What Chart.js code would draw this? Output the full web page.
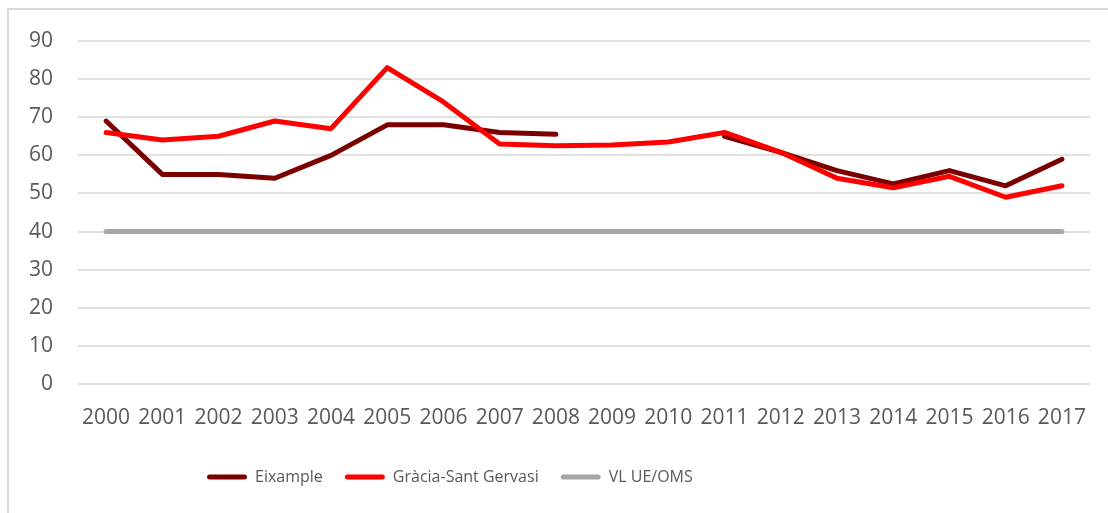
<!DOCTYPE html>
<html>
<head>
<meta charset="utf-8">
<script src="https://cdn.jsdelivr.net/npm/chart.js@4"></script>
<style>
  html, body { margin: 0; padding: 0; background: #ffffff; overflow: hidden; }
  #wrap { position: relative; width: 1108px; height: 513px; }
  #frame { position: absolute; left: 7px; top: 8px; width: 1200px; height: 600px;
           border-left: 2px solid #d9d9d9; border-top: 2px solid #d9d9d9; pointer-events: none; }
  canvas { position: absolute; left: 0; top: 0; }
</style>
</head>
<body>
<div id="wrap">
  <canvas id="c" width="1108" height="513"></canvas>
  <div id="frame"></div>
</div>
<script>
const years = ['2000','2001','2002','2003','2004','2005','2006','2007','2008','2009','2010','2011','2012','2013','2014','2015','2016','2017'];
const eixample = [69, 55, 55, 54, 60, 68, 68, 66, 65.5, null, null, 65, 60.8, 56, 52.5, 56, 52, 59];
const gracia = [66, 64, 65, 69, 67, 83, 74, 63, 62.5, 62.7, 63.5, 66, 60.8, 54, 51.5, 54.5, 49, 52];
const vlUeOms = [40, 40, 40, 40, 40, 40, 40, 40, 40, 40, 40, 40, 40, 40, 40, 40, 40, 40];
const yTicks = [0, 10, 20, 30, 40, 50, 60, 70, 80, 90];

const textColor = '#595959';

const legendPlacer = {
  id: 'legendPlacer',
  afterLayout(chart) {
    if (chart.legend) {
      chart.legend.left = 185;
    }
  }
};

new Chart(document.getElementById('c'), {
  type: 'line',
  data: {
    labels: years,
    datasets: [
      { label: 'Eixample', data: eixample, borderColor: '#7b0000', backgroundColor: '#7b0000',
        borderWidth: 5, pointRadius: 0, tension: 0, spanGaps: false, order: 3,
        borderJoinStyle: 'round', borderCapStyle: 'round' },
      { label: 'Gràcia-Sant Gervasi', data: gracia, borderColor: '#ff0000', backgroundColor: '#ff0000',
        borderWidth: 5, pointRadius: 0, tension: 0, order: 2,
        borderJoinStyle: 'round', borderCapStyle: 'round' },
      { label: 'VL UE/OMS', data: vlUeOms, borderColor: '#a6a6a6', backgroundColor: '#a6a6a6',
        borderWidth: 5, pointRadius: 0, tension: 0, order: 1,
        borderJoinStyle: 'round', borderCapStyle: 'round' }
    ]
  },
  options: {
    responsive: false,
    animation: false,
    events: [],
    layout: { padding: { left: 0, top: 41, right: 18, bottom: 18 } },
    plugins: {
      tooltip: { enabled: false },
      legend: {
        position: 'bottom',
        align: 'start',
        labels: {
          boxWidth: 40,
          boxHeight: 5,
          padding: 22,
          color: textColor,
          font: { family: "'Open Sans', sans-serif", size: 16 },
          sort: (a, b) => a.datasetIndex - b.datasetIndex,
          generateLabels(chart) {
            const items = Chart.defaults.plugins.legend.labels.generateLabels(chart);
            items.forEach(it => { it.lineWidth = 0; it.fillStyle = it.strokeStyle; it.borderRadius = 2.5; });
            return items;
          }
        }
      }
    },
    scales: {
      x: {
        offset: true,
        grid: { display: false, drawTicks: false },
        border: { display: false },
        ticks: {
          color: textColor,
          padding: 21,
          maxRotation: 0,
          autoSkip: false,
          font: { family: "'Open Sans', sans-serif", size: 21 }
        },
        afterFit(s) { s.height = 63; }
      },
      y: {
        min: 0,
        max: 90,
        afterBuildTicks(s) { s.ticks = yTicks.map(v => ({ value: v })); },
        grid: { color: '#e0e0e0', lineWidth: 2, drawTicks: false },
        border: { display: false },
        ticks: {
          color: textColor,
          padding: 25,
          font: { family: "'Open Sans', sans-serif", size: 21 }
        },
        afterFit(s) { s.width = 78; }
      }
    }
  },
  plugins: [legendPlacer]
});
</script>
</body>
</html>
